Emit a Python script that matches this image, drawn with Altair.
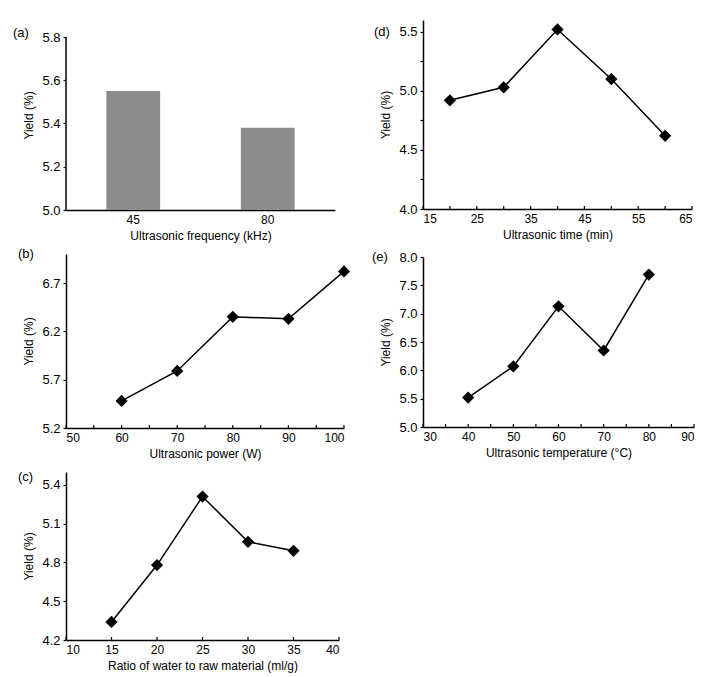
import altair as alt
import pandas as pd

FONT = "Liberation Sans"

# ---------------- data ----------------
freq = ["45", "80"]
freq_yield = [5.55, 5.38]

power = [60, 70, 80, 90, 100]
power_yield = [5.48, 5.79, 6.35, 6.33, 6.82]

ratio = [15, 20, 25, 30, 35]
ratio_yield = [4.34, 4.78, 5.31, 4.96, 4.89]

time_min = [20, 30, 40, 50, 60]
time_yield = [4.92, 5.03, 5.52, 5.10, 4.62]

temp = [40, 50, 60, 70, 80]
temp_yield = [5.52, 6.07, 7.13, 6.35, 7.69]

# tick positions / labels
power_ticks = [50, 55, 60, 65, 70, 75, 80, 85, 90, 95, 100]
power_labels = [50, 60, 70, 80, 90, 100]
ratio_ticks = [10, 15, 20, 25, 30, 35, 40]
time_ticks = [15, 20, 25, 30, 35, 40, 45, 50, 55, 60, 65]
time_labels = [15, 25, 35, 45, 55, 65]
temp_ticks = [30, 35, 40, 45, 50, 55, 60, 65, 70, 75, 80, 85, 90]
temp_labels = [30, 40, 50, 60, 70, 80, 90]

yticks_a = [5.0, 5.2, 5.4, 5.6, 5.8]
yticks_b = [5.2, 5.7, 6.2, 6.7]
yticks_c = [4.2, 4.5, 4.8, 5.1, 5.4]
yticks_d = [4.0, 4.25, 4.5, 4.75, 5.0, 5.25, 5.5]
yticks_e = [5.0, 5.5, 6.0, 6.5, 7.0, 7.5, 8.0]


def panel_label(text, dx, dy):
    return alt.Chart(pd.DataFrame({"t": [text]})).mark_text(
        align="left", baseline="middle", font=FONT, fontSize=13, color="black"
    ).encode(x=alt.value(dx), y=alt.value(dy), text="t:N")


def spacer(ext):
    return alt.Chart(pd.DataFrame({"t": ["."]})).mark_text(
        align="left", baseline="top", font=FONT, fontSize=8, opacity=0
    ).encode(x=alt.value(0), y=alt.value(-ext), text="t:N")


def y_axis(values, label_all=True, domain=True):
    if label_all:
        return alt.Axis(values=values, title="Yield (%)", format=".1f",
                        domain=domain)
    return alt.Axis(
        values=values,
        title="Yield (%)",
        labelExpr="(round(datum.value*4) % 2 == 0) ? format(datum.value, '.1f') : ''",
    )


def line_panel(xs, ys, xdom, xlabels, xticks, ydom, yaxis, w, h, xtitle,
               label, ldx, ldy, ext):
    df = pd.DataFrame({"x": xs, "y": ys})
    xsc = alt.Scale(domain=xdom, nice=False, zero=False)
    ysc = alt.Scale(domain=ydom, nice=False, zero=False)
    base = alt.Chart(df).encode(
        x=alt.X("x:Q", scale=xsc,
                axis=alt.Axis(values=xlabels, title=xtitle, format="d")),
        y=alt.Y("y:Q", scale=ysc, axis=yaxis),
    )
    line = base.mark_line(color="black", strokeWidth=1.5)
    pts = base.mark_point(shape="diamond", filled=True, size=150,
                          color="black", opacity=1)
    tk = alt.Chart(pd.DataFrame({"x": xticks})).mark_rule(
        color="black", strokeWidth=1.2
    ).encode(x=alt.X("x:Q", scale=xsc, title=xtitle),
             y=alt.value(h), y2=alt.value(h - 3))
    layers = [line, tk, pts, panel_label(label, ldx, ldy)]
    if ext:
        layers.append(spacer(ext))
    return alt.layer(*layers).properties(width=w, height=h)


# ---------------- panel (a) ----------------
# panel (a) sits 17px lower than panel (d): its plot area is 17px taller and
# the y axis line is drawn only over 5.0-5.8
A_H, A_EXTRA = 173, 17
a_top = 5.8 + 0.8 * A_EXTRA / A_H
dfa = pd.DataFrame({"f": freq, "y": freq_yield})
ysc_a = alt.Scale(domain=[5.0, a_top], nice=False, zero=False)
a_bars = alt.Chart(dfa).mark_bar(color="#8c8c8c").encode(
    x=alt.X("f:N", sort=freq,
            scale=alt.Scale(paddingInner=0.6, paddingOuter=0.3),
            axis=alt.Axis(title="Ultrasonic frequency (kHz)", labelAngle=0)),
    y=alt.Y("y:Q", scale=ysc_a, axis=y_axis(yticks_a, domain=False)),
    y2=alt.datum(5.0),
)
a_axis_line = alt.Chart(pd.DataFrame({"lo": [5.0], "hi": [5.8]})).mark_rule(
    color="black", strokeWidth=1.5
).encode(x=alt.value(0), y=alt.Y("lo:Q", scale=ysc_a), y2="hi:Q")
panel_a = alt.layer(a_bars, a_axis_line,
                    panel_label("(a)", -53, A_EXTRA - 4)).properties(
    width=269, height=A_H + A_EXTRA)

panel_b = line_panel(power, power_yield, [50, 100], power_labels, power_ticks,
                     [5.2, 7.0], y_axis(yticks_b), 278, 174,
                     "Ultrasonic power (W)", "(b)", -48, 0, 9)
panel_c = line_panel(ratio, ratio_yield, [10, 40], ratio_ticks, ratio_ticks,
                     [4.2, 5.5], y_axis(yticks_c), 273, 168,
                     "Ratio of water to raw material (ml/g)", "(c)", -48, 5, 9)
panel_d = line_panel(time_min, time_yield, [15, 65], time_labels, time_ticks,
                     [4.0, 5.6], y_axis(yticks_d, label_all=False), 269, 189,
                     "Ultrasonic time (min)", "(d)", -49, 12, 0)
panel_e = line_panel(temp, temp_yield, [30, 90], temp_labels, temp_ticks,
                     [5.0, 8.0], y_axis(yticks_e), 271, 170,
                     "Ultrasonic temperature (°C)", "(e)", -51, 0, 9)

left = alt.vconcat(panel_a, panel_b, panel_c, spacing=4)
right = alt.vconcat(panel_d, panel_e, spacing=8)

chart = alt.hconcat(left, right, spacing=21).properties(
    padding={"left": 5, "top": 12, "right": 5, "bottom": 5}
).configure_view(stroke=None).configure_axis(
    grid=False,
    domainColor="black",
    domainWidth=1.5,
    tickColor="black",
    tickWidth=1.2,
    labelColor="black",
    titleColor="black",
    labelFont=FONT,
    titleFont=FONT,
    titleFontWeight="normal",
    labelFontSize=12,
    titleFontSize=12,
).configure_axisY(
    tickSize=3, labelPadding=3, titlePadding=6, labelFontSize=13
).configure_axisX(
    ticks=False, tickSize=0, labelPadding=4, titlePadding=5
)

chart.save("out.html", embed_options={"renderer": "svg", "actions": False})
